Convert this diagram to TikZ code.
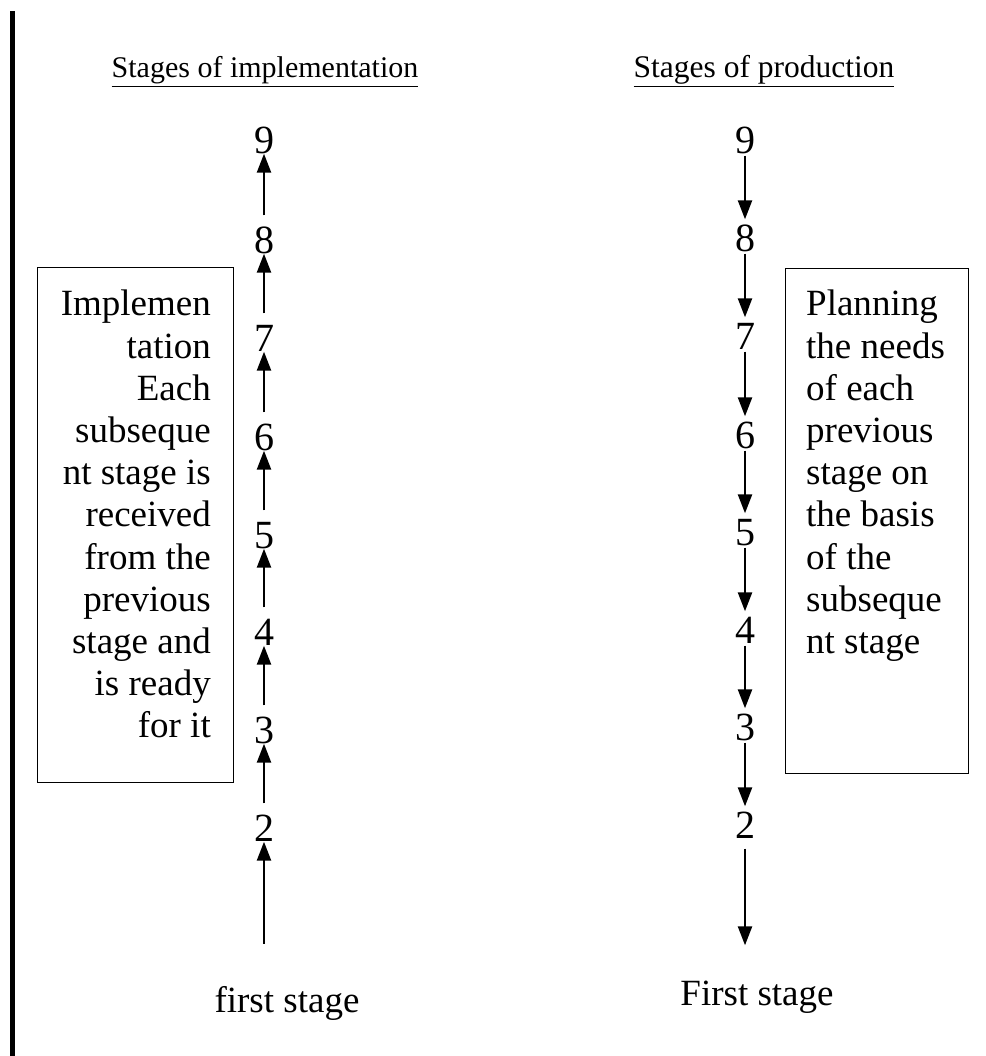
\documentclass[tikz,border=0pt]{standalone}
\usepackage{fontspec}
\setmainfont{Liberation Serif}
\usetikzlibrary{arrows.meta}
\begin{document}
\begin{tikzpicture}[x=1pt,y=-1pt,
  num/.style={font=\fontsize{40}{44}\selectfont, inner sep=0pt, text height=27pt, text depth=0pt},
  title/.style={font=\fontsize{30}{34}\selectfont, inner sep=0pt, anchor=base},
  body/.style={font=\fontsize{37}{42.2}\selectfont, inner sep=0pt},
  boxframe/.style={draw, line width=0.9pt, inner sep=0pt},
  arr/.style={line width=2.4pt, -{Triangle[width=14pt,length=19pt]}},
  upar/.style={arr, shorten <=11pt, shorten >=0pt},
  dnar/.style={arr, shorten <=2pt, shorten >=5pt},
]
\path[use as bounding box] (0,0) rectangle (985,1056);
% left vertical bar
\fill (10,11) rectangle (15,1056);

% titles
\node[title] (tl) at (265,78) {\underline{Stages of implementation}};
\node[title, font=\fontsize{31.5}{36}\selectfont] (tr) at (764,78) {\underline{Stages of production}};

% left column numbers
\node[num] (L9) at (264,140) {9};
\node[num] (L8) at (264,240) {8};
\node[num] (L7) at (264,338) {7};
\node[num] (L6) at (264,437) {6};
\node[num] (L5) at (264,535) {5};
\node[num] (L4) at (264,632) {4};
\node[num] (L3) at (264,730) {3};
\node[num] (L2) at (264,828) {2};
\node[body, anchor=base] (L1) at (287,1012) {first stage};

% right column numbers
\node[num] (R9) at (745,140) {9};
\node[num] (R8) at (745,238) {8};
\node[num] (R7) at (745,336) {7};
\node[num] (R6) at (745,435) {6};
\node[num] (R5) at (745,532) {5};
\node[num] (R4) at (745,630) {4};
\node[num] (R3) at (745,727) {3};
\node[num] (R2) at (745,825) {2};
\node[body, anchor=base] (R1) at (757,1005) {First stage};

% left arrows (upward)
\draw[upar, shorten <=42pt] (L2.south |- L1.north) -- (L2.south);
\draw[upar] (L2.north) -- (L3.south);
\draw[upar] (L3.north) -- (L4.south);
\draw[upar] (L4.north) -- (L5.south);
\draw[upar] (L5.north) -- (L6.south);
\draw[upar] (L6.north) -- (L7.south);
\draw[upar] (L7.north) -- (L8.south);
\draw[upar] (L8.north) -- (L9.south);

% right arrows (downward)
\draw[dnar] (R9.south) -- (R8.north);
\draw[dnar] (R8.south) -- (R7.north);
\draw[dnar] (R7.south) -- (R6.north);
\draw[dnar] (R6.south) -- (R5.north);
\draw[dnar] (R5.south) -- (R4.north);
\draw[dnar] (R4.south) -- (R3.north);
\draw[dnar] (R3.south) -- (R2.north);
\draw[dnar, shorten <=10pt, shorten >=35pt] (R2.south) -- (R2.south |- R1.north);

% boxes
\node[boxframe, minimum width=196pt, minimum height=515pt] (lbox) at (135.5,525) {};
\node[body, align=right, anchor=north east] (ltext) at (211,290)
  {Implemen\\tation\\Each\\subseque\\nt stage is\\received\\from the\\previous\\stage and\\is ready\\for it};

\node[boxframe, minimum width=183pt, minimum height=505pt] (rbox) at (876.5,520.5) {};
\node[body, align=left, anchor=north west] (rtext) at (806,290)
  {Planning\\the needs\\of each\\previous\\stage on\\the basis\\of the\\subseque\\nt stage};
\end{tikzpicture}
\end{document}
